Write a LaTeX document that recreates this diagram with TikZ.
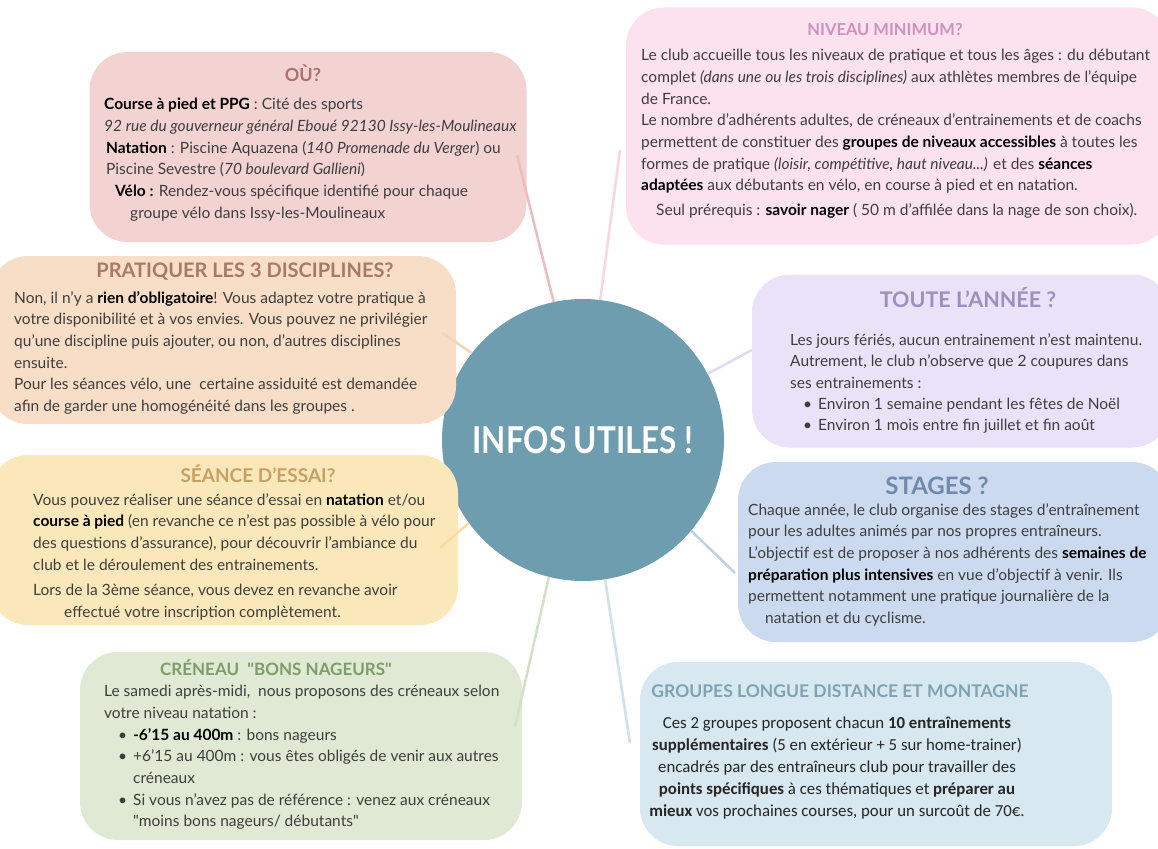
\documentclass[tikz,border=0pt]{standalone}
\usepackage{fontspec}
\setmainfont{Lato}
\newfontfamily\carlito{Carlito}
\usetikzlibrary{positioning}

\definecolor{infosblue}{RGB}{110,157,175}
\definecolor{txtgrey}{RGB}{62,62,62}
\definecolor{oufond}{RGB}{243,211,210}
\definecolor{outitre}{RGB}{180,110,106}
\definecolor{oulien}{RGB}{234,190,190}
\definecolor{prafond}{RGB}{249,222,199}
\definecolor{pratitre}{RGB}{166,122,104}
\definecolor{pralien}{RGB}{244,212,186}
\definecolor{seafond}{RGB}{251,232,186}
\definecolor{seatitre}{RGB}{198,160,100}
\definecolor{sealien}{RGB}{247,221,165}
\definecolor{crefond}{RGB}{223,233,211}
\definecolor{cretitre}{RGB}{127,156,106}
\definecolor{crelien}{RGB}{212,224,199}
\definecolor{nivfond}{RGB}{252,225,238}
\definecolor{nivtitre}{RGB}{204,147,190}
\definecolor{nivlien}{RGB}{248,214,230}
\definecolor{toufond}{RGB}{234,226,248}
\definecolor{toutitre}{RGB}{158,144,189}
\definecolor{toulien}{RGB}{226,217,244}
\definecolor{stafond}{RGB}{204,218,240}
\definecolor{statitre}{RGB}{111,137,175}
\definecolor{stalien}{RGB}{194,209,234}
\definecolor{grofond}{RGB}{215,232,240}
\definecolor{grotitre}{RGB}{127,163,178}
\definecolor{grolien}{RGB}{207,226,234}

\newcommand{\gras}[1]{\textbf{\color{black}#1}}
\newcommand{\puce}{\makebox[15pt][l]{\textbullet}}
\newcommand{\tsize}[1]{\bfseries\fontsize{#1}{#1}\selectfont}

\tikzset{
  box/.style={fill=#1, rounded corners=38pt, inner sep=0pt},
  titre/.style={text=#1, inner sep=0pt},
  corps/.style={anchor=north west, inner sep=0pt, align=left, text=txtgrey,
    font=\fontsize{15.5}{21.7}\selectfont},
  lien/.style={draw=#1, line width=2.6pt},
}

\begin{document}
\begin{tikzpicture}[x=1pt,y=-1pt]
\useasboundingbox (0,0) rectangle (1158,848);

% centre
\node[circle, fill=infosblue, minimum size=282pt, inner sep=0pt,
  text=white, font=\bfseries\fontsize{37}{40}\selectfont] (infos) at (583,440) {\scalebox{0.85}[1]{INFOS UTILES !}};

% OU ?
\node[box=oufond, minimum width=437pt, minimum height=190pt] (ou) at (308,147) {};
\node[titre=outitre, font=\tsize{18}] (ou-titre) at (303,73) {OÙ?};
\node[corps] (ou-txt) at (104,98) {\gras{Course à pied et PPG} : Cité des sports\\
\textit{92 rue du gouverneur général Eboué 92130 Issy-les-Moulineaux}\\
\hspace*{2pt}\gras{Natation} : Piscine Aquazena (\textit{140 Promenade du Verger}) ou\\
\hspace*{2pt}Piscine Sevestre (\textit{70 boulevard Gallieni})\\
\hspace*{11pt}\gras{Vélo :} Rendez-vous spécifique identifié pour chaque\\
\hspace*{26pt}groupe vélo dans Issy-les-Moulineaux};
\coordinate (ou-c) at (517,155);

% PRATIQUER
\node[box=prafond, minimum width=466pt, minimum height=168pt] (pra) at (223,340) {};
\node[titre=pratitre, font=\tsize{20}] (pra-titre) at (245,272) {PRATIQUER LES 3 DISCIPLINES?};
\node[corps] (pra-txt) at (14,291) {Non, il n’y a \gras{rien d’obligatoire}! Vous adaptez votre pratique à\\
votre disponibilité et à vos envies. Vous pouvez ne privilégier\\
qu'une discipline puis ajouter, ou non, d'autres disciplines\\
ensuite.\\
Pour les séances vélo, une\ \ certaine assiduité est demandée\\
afin de garder une homogénéité dans les groupes .};
\coordinate (pra-c) at (442,333);

% SEANCE D'ESSAI
\node[box=seafond, minimum width=468pt, minimum height=170pt] (sea) at (224,540) {};
\node[titre=seatitre, font=\tsize{19}] (sea-titre) at (258,474) {SÉANCE D'ESSAI?};
\node[corps] (sea-txt) at (33,493) {Vous pouvez réaliser une séance d'essai en \gras{natation} et/ou\\
\gras{course à pied} (en revanche ce n'est pas possible à vélo pour\\
des questions d'assurance), pour découvrir l'ambiance du\\
club et le déroulement des entrainements.\\[4pt]
Lors de la 3ème séance, vous devez en revanche avoir\\
\hspace*{31pt}effectué votre inscription complètement.};
\coordinate (sea-c) at (440,548);

% CRENEAU
\node[box=crefond, minimum width=442pt, minimum height=188pt] (cre) at (301,746) {};
\node[titre=cretitre, font=\tsize{17}] (cre-titre) at (276,668) {CRÉNEAU\ \ \textquotedbl BONS NAGEURS\textquotedbl};
\node[corps] (cre-txt) at (104,685) {Le samedi après-midi,\ \ nous proposons des créneaux selon\\
votre niveau natation :};
\node[corps] (cre-liste) at (118,728) {\puce\gras{-6'15 au 400m} : bons nageurs\\
\puce+6'15 au 400m : vous êtes obligés de venir aux autres\\
\hspace*{15pt}créneaux\\
\puce Si vous n'avez pas de référence : venez aux créneaux\\
\hspace*{15pt}\textquotedbl moins bons nageurs/ débutants\textquotedbl};
\coordinate (cre-c) at (515,727);

% NIVEAU MINIMUM
\node[box=nivfond, minimum width=544pt, minimum height=237pt] (niv) at (898,126) {};
\node[titre=nivtitre, font=\tsize{16.5}] (niv-titre) at (885,30) {NIVEAU MINIMUM?};
\node[corps] (niv-txt) at (641,49) {Le club accueille tous les niveaux de pratique et tous les âges : du débutant\\
complet \textit{(dans une ou les trois disciplines)} aux athlètes membres de l’équipe\\
de France.\\
Le nombre d’adhérents adultes, de créneaux d’entrainements et de coachs\\
permettent de constituer des \gras{groupes de niveaux accessibles} à toutes les\\
formes de pratique \textit{(loisir, compétitive, haut niveau...)} et des \gras{séances}\\
\gras{adaptées} aux débutants en vélo, en course à pied et en natation.\\[3pt]
\hspace*{15pt}Seul prérequis : \gras{savoir nager} ( 50 m d'affilée dans la nage de son choix).};
\coordinate (niv-c) at (620,150);

% TOUTE L'ANNEE
\node[box=toufond, minimum width=418pt, minimum height=173pt] (tou) at (961,361) {};
\node[titre=toutitre, font=\tsize{21.5}] (tou-titre) at (968,298) {TOUTE L'ANNÉE ?};
\node[corps] (tou-txt) at (790,333) {Les jours fériés, aucun entrainement n'est maintenu.\\
Autrement, le club n'observe que 2 coupures dans\\
ses entrainements :};
\node[corps, font=\fontsize{15.5}{20.5}\selectfont] (tou-liste) at (803,398) {\puce Environ 1 semaine pendant les fêtes de Noël\\
\puce Environ 1 mois entre fin juillet et fin août};
\coordinate (tou-c) at (752,350);

% STAGES
\node[box=stafond, minimum width=432pt, minimum height=180pt] (sta) at (954,552) {};
\node[titre=statitre, font=\tsize{24}] (sta-titre) at (937,486) {STAGES ?};
\node[corps] (sta-txt) at (748,503) {Chaque année, le club organise des stages d'entraînement\\
pour les adultes animés par nos propres entraîneurs.\\
L'objectif est de proposer à nos adhérents des \gras{semaines de}\\
\gras{préparation plus intensives} en vue d'objectif à venir. Ils\\
permettent notamment une pratique journalière de la\\
\hspace*{17pt}natation et du cyclisme.};
\coordinate (sta-c) at (735,573);

% GROUPES LONGUE DISTANCE
\node[box=grofond, minimum width=472pt, minimum height=184pt] (gro) at (876,754) {};
\node[titre=grotitre, font=\tsize{17.5}] (gro-titre) at (840,691) {GROUPES LONGUE DISTANCE ET MONTAGNE};
\node[inner sep=0pt, align=center, text=black!85, font=\carlito\fontsize{16.8}{22}\selectfont,
  anchor=north] (gro-txt) at (837,717) {Ces 2 groupes proposent chacun \textbf{10 entraînements}\\
\textbf{supplémentaires} (5 en extérieur + 5 sur home-trainer)\\
encadrés par des entraîneurs club pour travailler des\\
\textbf{points spécifiques} à ces thématiques et \textbf{préparer au}\\
\textbf{mieux} vos prochaines courses, pour un surcoût de 70€.};
\coordinate (gro-c) at (630,743);

% liens vers le centre
\draw[lien=oulien] (ou-c) -- (infos.102);
\draw[lien=pralien] (pra-c) -- (infos.142);
\draw[lien=sealien] (sea-c) -- (infos.-144);
\draw[lien=crelien] (cre-c) -- (infos.-104);
\draw[lien=nivlien] (niv-c) -- (infos.83);
\draw[lien=toulien] (tou-c) -- (infos.28);
\draw[lien=stalien] (sta-c) -- (infos.-40);
\draw[lien=grolien] (gro-c) -- (infos.-81);
\end{tikzpicture}
\end{document}
